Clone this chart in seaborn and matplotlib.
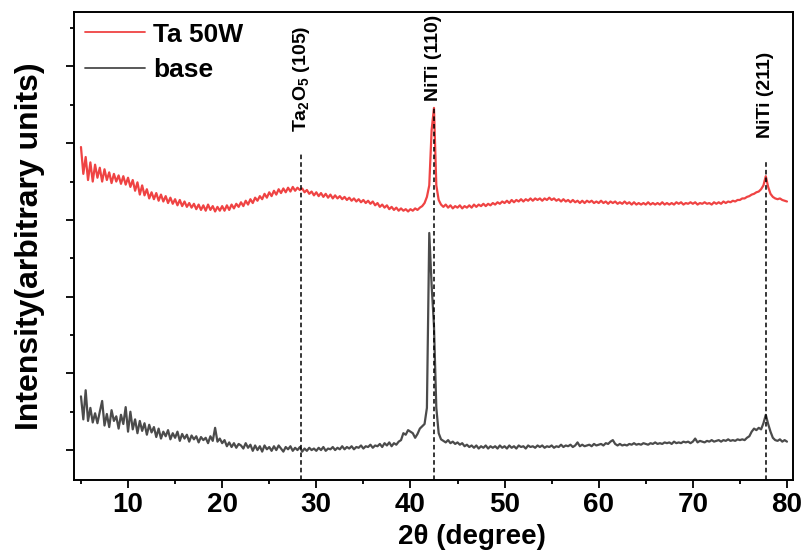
import numpy as np
import pandas as pd
import matplotlib
matplotlib.use("Agg")
import matplotlib.pyplot as plt
from matplotlib.ticker import MultipleLocator
import seaborn as sns

# ---------------- data ----------------
# scan grid: 5.00 .. 80.00 deg in 0.25 deg steps
two_theta = np.round(np.arange(5.0, 80.0001, 0.25), 2)

base = [
    70, 40, 78, 38, 55, 36, 48, 35, 50, 64, 32, 47, 30, 52, 38, 44, 28, 46, 34, 56,      # 5-9.75
    24, 50, 27, 40, 22, 38, 25, 35, 20, 33, 23, 30, 17, 28, 15, 24, 18, 26, 14, 22,      # 10-14.75
    16, 24, 12, 21, 15, 20, 11, 19, 14, 18, 10, 17, 13, 16, 9, 18, 12, 29, 11, 15,       # 15-19.75
    9, 13, 5, 10, 4, 9, 3, 8, 6, 2, 9, 3, 7, -1, 6, 0, 5, -2, 6, 1,                      # 20-24.75
    4, -1, 5, 0, 6, 2, -2, 4, 1, 5, -1, 3, 0, 4, -2, 2, -1, 3, 0, 2,                     # 25-29.75
    -1, 3, 0, 4, -1, 2, 1, 4, 0, 3, 1, 5, 1, 4, 2, 5, 1, 4, 3, 6,                        # 30-34.75
    2, 5, 4, 7, 3, 6, 5, 8, 4, 9, 6, 10, 5, 9, 7, 11, 13, 22, 20, 26,                    # 35-39.75
    24, 22, 16, 21, 28, 31, 34, 55, 283, 215, 162, 55, 22, 14, 12, 10, 13, 9, 11, 8,     # 40-44.75
    10, 7, 9, 5, 7, 4, 6, 3, 6, 2, 5, 3, 6, 2, 5, 3, 5, 2, 6, 3,                         # 45-49.75
    5, 2, 6, 3, 5, 2, 6, 4, 5, 2, 6, 4, 5, 3, 6, 4, 6, 3, 5, 4,                          # 50-54.75
    6, 3, 5, 4, 7, 4, 6, 5, 7, 4, 6, 10, 5, 7, 5, 6, 7, 5, 8, 6,                         # 55-59.75
    7, 8, 6, 9, 8, 11, 13, 8, 6, 8, 6, 7, 6, 8, 7, 9, 7, 8, 7, 9,                        # 60-64.75
    8, 7, 9, 8, 10, 8, 9, 8, 10, 9, 10, 8, 11, 9, 10, 9, 11, 10, 11, 9,                  # 65-69.75
    11, 15, 10, 12, 11, 10, 12, 11, 13, 11, 12, 13, 11, 13, 12, 14, 12, 13, 12, 14,      # 70-74.75
    13, 14, 13, 16, 18, 24, 28, 26, 29, 27, 35, 46, 34, 24, 16, 13, 12, 14, 11, 13,      # 75-79.75
    11,                                                                                  # 80
]

ta50w = [
    395, 360, 382, 352, 375, 350, 372, 355, 368, 350, 366, 352, 362, 348, 360, 350, 358, 347, 357, 346,  # 5
    355, 343, 352, 338, 349, 333, 345, 332, 340, 328, 336, 327, 335, 325, 333, 324, 331, 322, 329, 321,  # 10
    327, 319, 326, 318, 324, 317, 322, 316, 321, 314, 320, 313, 319, 312, 320, 313, 318, 311, 317, 312,  # 15
    318, 312, 319, 313, 320, 315, 321, 317, 323, 318, 325, 320, 327, 322, 329, 325, 331, 327, 334, 329,  # 20
    336, 331, 338, 333, 340, 335, 341, 336, 342, 337, 343, 338, 342, 339, 341, 336, 339, 334, 337, 332,  # 25
    336, 331, 335, 330, 334, 329, 333, 328, 332, 328, 331, 327, 330, 326, 329, 325, 328, 324, 327, 323,  # 30
    326, 322, 325, 321, 324, 319, 322, 317, 320, 316, 319, 314, 317, 313, 316, 312, 315, 312, 314, 311,  # 35
    314, 312, 315, 313, 316, 318, 322, 330, 345, 417, 446, 345, 326, 320, 317, 320, 316, 319, 315, 318,  # 40
    316, 319, 315, 318, 316, 319, 316, 320, 317, 320, 318, 321, 318, 321, 319, 322, 320, 323, 321, 324,  # 45
    322, 325, 322, 326, 323, 326, 324, 327, 324, 327, 325, 328, 325, 328, 326, 328, 325, 328, 326, 329,  # 50
    326, 328, 325, 327, 324, 327, 324, 326, 323, 326, 323, 325, 322, 325, 322, 325, 323, 325, 322, 324,  # 55
    322, 325, 322, 324, 321, 324, 322, 324, 321, 323, 321, 324, 321, 323, 320, 323, 320, 322, 320, 322,  # 60
    320, 323, 320, 322, 320, 322, 320, 323, 320, 322, 320, 322, 320, 323, 321, 323, 320, 322, 321, 323,  # 65
    321, 323, 320, 322, 321, 323, 321, 322, 320, 323, 321, 323, 321, 324, 322, 324, 323, 325, 324, 326,  # 70
    326, 328, 328, 330, 331, 333, 334, 336, 337, 340, 345, 357, 343, 334, 330, 328, 327, 328, 326, 325,  # 75
    324,                                                                                                 # 80
]

series_names = ["Ta 50W", "base"]
series_colors = ["#ef4343", "#4b4b4b"]

peak_positions = [28.4, 42.5, 77.75]
peak_labels = [r"Ta$_2$O$_5$ (105)", "NiTi (110)", "NiTi (211)"]
peak_line_tops = [387, 447, 378]
peak_label_bottoms = [415, 455, 407]

x_label = "2θ (degree)"
y_label = "Intensity(arbitrary units)"

# ---------------- figure ----------------
sns.set_theme(style="ticks")
plt.rcParams["font.family"] = ["Liberation Sans", "DejaVu Sans"]
plt.rcParams["font.weight"] = "bold"
plt.rcParams["text.color"] = "black"
plt.rcParams["axes.labelcolor"] = "black"
plt.rcParams["xtick.color"] = "black"
plt.rcParams["ytick.color"] = "black"
plt.rcParams["mathtext.fontset"] = "custom"
plt.rcParams["mathtext.rm"] = "Liberation Sans:bold"
plt.rcParams["mathtext.it"] = "Liberation Sans:bold"
plt.rcParams["mathtext.bf"] = "Liberation Sans:bold"

df = pd.concat([
    pd.DataFrame({"two_theta": two_theta, "intensity": ta50w, "sample": series_names[0]}),
    pd.DataFrame({"two_theta": two_theta, "intensity": base, "sample": series_names[1]}),
], ignore_index=True)

fig = plt.figure(figsize=(8.03, 5.5), dpi=100)
ax = fig.add_axes([74 / 803, 1 - 480 / 550, (793 - 74) / 803, (480 - 12) / 550])

sns.lineplot(data=df, x="two_theta", y="intensity", hue="sample",
             hue_order=series_names, palette=series_colors,
             linewidth=1.6, ax=ax, estimator=None, sort=False)

ax.set_xlim(4.26, 80.64)
ax.set_ylim(-39, 571)

# reference peak lines
for pos, top, lab, lb in zip(peak_positions, peak_line_tops, peak_labels, peak_label_bottoms):
    ax.plot([pos, pos], [-39, top], color="black", linestyle=(0, (3, 2)), linewidth=1.1, zorder=3)
    ax.text(pos, lb, lab, rotation=90, ha="center", va="bottom",
            fontsize=14, fontweight="bold", color="black")

# axes styling
for sp in ax.spines.values():
    sp.set_visible(True)
    sp.set_linewidth(1.4)
    sp.set_color("black")

ax.xaxis.set_major_locator(MultipleLocator(10))
ax.xaxis.set_minor_locator(MultipleLocator(5))
ax.yaxis.set_major_locator(MultipleLocator(100))
ax.yaxis.set_minor_locator(MultipleLocator(50))
ax.tick_params(axis="both", which="major", direction="out", length=6, width=1.3,
               color="black", labelsize=20, pad=3, labelcolor="black")
ax.tick_params(axis="both", which="minor", direction="out", length=3, width=1.3, color="black")
ax.tick_params(axis="y", which="both", labelleft=False)
ax.tick_params(top=False, right=False, which="both")
for lbl in ax.get_xticklabels():
    lbl.set_fontweight("bold")

ax.set_xlabel(x_label, fontsize=20, fontweight="bold", color="black")
ax.xaxis.set_label_coords(0.5535, -0.095)
ax.set_ylabel(y_label, fontsize=23, fontweight="bold", color="black")
ax.yaxis.set_label_coords(-0.040, 0.5)

leg = ax.legend(loc="upper left", bbox_to_anchor=(0, 1), borderaxespad=0, borderpad=0.4,
                frameon=False, handlelength=2.3, handletextpad=0.3,
                labelspacing=0.45, prop={"weight": "bold", "size": 19})
for line in leg.get_lines():
    line.set_linewidth(1.3)
for t in leg.get_texts():
    t.set_color("black")

fig.savefig("out.png", dpi=100)
